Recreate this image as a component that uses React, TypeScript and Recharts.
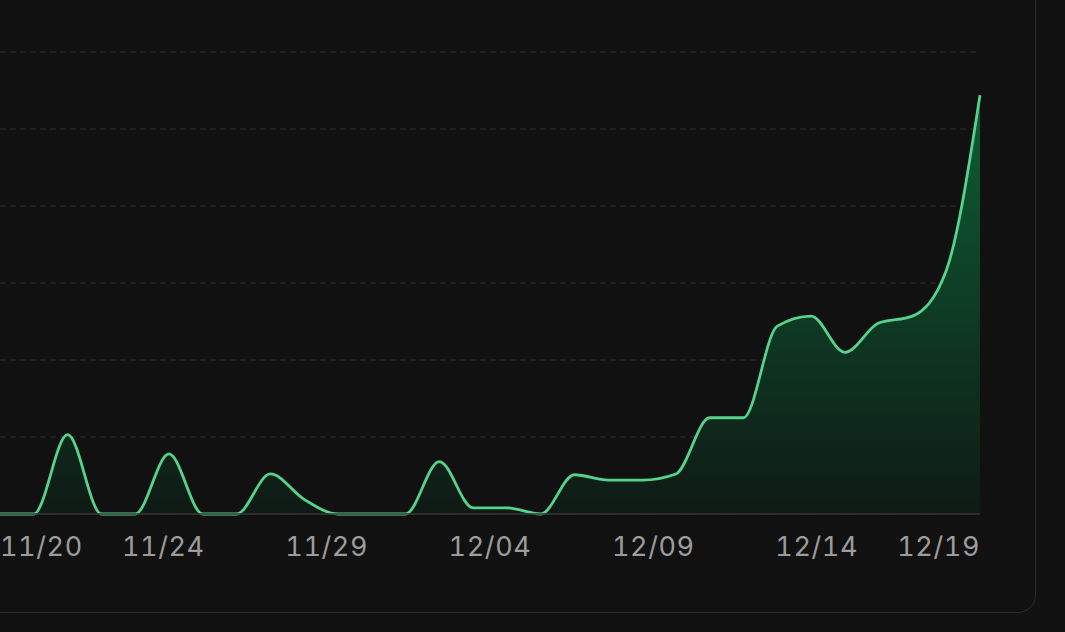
import { Area, AreaChart, CartesianGrid, XAxis, YAxis } from 'recharts';

const dates = [
  '11/20', '11/21', '11/22', '11/23', '11/24', '11/25', '11/26', '11/27', '11/28', '11/29',
  '11/30', '12/01', '12/02', '12/03', '12/04', '12/05', '12/06', '12/07', '12/08', '12/09',
  '12/10', '12/11', '12/12', '12/13', '12/14', '12/15', '12/16', '12/17', '12/18', '12/19',
];
const values = [
  0, 0, 10.3, 0, 0, 7.8, 0, 0, 5.2, 1.9,
  0, 0, 0, 6.8, 0.8, 0.8, 0, 5.1, 4.4, 4.4,
  5.2, 12.5, 12.5, 24.4, 25.7, 21, 24.8, 25.7, 31.6, 54.4,
];
const tickLabels = ['11/20', '11/24', '11/29', '12/04', '12/09', '12/14', '12/19'];
const yTicks = [0, 10, 20, 30, 40, 50, 60];

const data = dates.map((date, i) => ({ i, date, value: values[i] }));
const last = dates.length - 1;
const xTicks = tickLabels.map((_, k) => (k * last) / (tickLabels.length - 1));

function DateTick(props: any) {
  const { x, y, index } = props;
  const anchor = index === 0 ? 'start' : index === tickLabels.length - 1 ? 'end' : 'middle';
  return (
    <text
      x={x}
      y={y}
      dy={34}
      textAnchor={anchor}
      fill="#9c9c9c"
      fontSize={27}
      fontFamily="Inter, 'Noto Sans', sans-serif"
      style={{ fontFeatureSettings: '"tnum"', letterSpacing: 0.6 }}
    >
      {tickLabels[index]}
    </text>
  );
}

export default function App() {
  return (
    <div style={{ position: 'fixed', left: 0, top: 0, width: 1065, height: 632, background: '#111111', overflow: 'hidden' }}>
      <div
        style={{
          position: 'absolute',
          left: -40,
          top: -40,
          width: 1076,
          height: 653,
          boxSizing: 'border-box',
          border: '1px solid #2b2b2b',
          borderRadius: 18,
        }}
      />
      <div style={{ position: 'absolute', left: 0, top: 0 }}>
        <AreaChart width={1065} height={632} data={data} margin={{ top: 52, right: 85, bottom: 58, left: 0 }}>
          <defs>
            <linearGradient id="fillGreen" x1="0" y1="0" x2="0" y2="1">
              <stop offset="0%" stopColor="#0d5e34" />
              <stop offset="100%" stopColor="#0f1a15" />
            </linearGradient>
          </defs>
          <CartesianGrid vertical={false} stroke="#303030" strokeDasharray="6 4" />
          <XAxis
            dataKey="i"
            type="number"
            domain={[0, last]}
            ticks={xTicks}
            interval={0}
            height={60}
            axisLine={{ stroke: '#363636', strokeWidth: 1.5 }}
            tickLine={false}
            tick={<DateTick />}
          />
          <YAxis hide domain={[0, 60]} ticks={yTicks} width={0} />
          <Area
            type="monotone"
            dataKey="value"
            stroke="#55d38c"
            strokeWidth={2.8}
            fill="url(#fillGreen)"
            fillOpacity={1}
            dot={false}
            activeDot={false}
            isAnimationActive={false}
          />
        </AreaChart>
      </div>
    </div>
  );
}
